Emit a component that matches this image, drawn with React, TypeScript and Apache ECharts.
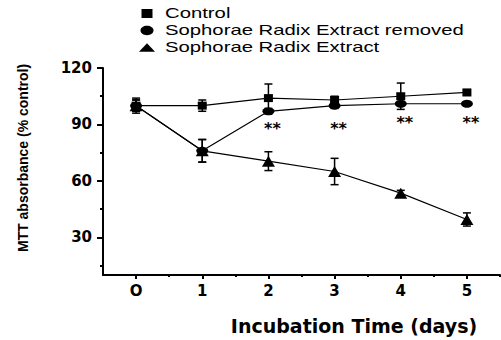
import React, { useEffect, useRef } from "react";
import * as echarts from "echarts";

const days = [0, 1, 2, 3, 4, 5];
const xTickLabels = ["O", "1", "2", "3", "4", "5"];
const xMinorTicks = [0.5, 1.5, 2.5, 3.5, 4.5, 5.5];
const yTickValues = [30, 60, 90, 120];
const yMinorTicks = [15, 45, 75, 105];

const seriesNames = ["Control", "Sophorae Radix Extract removed", "Sophorae Radix Extract"];

const controlMean = [100, 100, 104, 103, 105, 107];
const controlErr = [4, 3, 7.5, 2, 7, 1.5];
const removedMean = [100, 76, 97, 100, 101, 101];
const removedErr = [3, 6, 1.5, 1.5, 1, 1];
const extractMean = [100, 76, 70.5, 65, 53.5, 39.5];
const extractErr = [3, 6, 5, 7, 1.5, 3.5];

const sigDays = [2, 3, 4, 5];
const sigLevel = [89, 89, 92, 92];

const FONT_BOLD = "DejaVu Sans";

export default function App() {
  const ref = useRef<HTMLDivElement>(null);

  useEffect(() => {
    if (!ref.current) return;
    const chart = echarts.init(ref.current, undefined, { renderer: "svg" });

    const pts = (ys: number[]) => days.map((d, i) => [d, ys[i]]);
    const errPts = (ys: number[], es: number[]) => days.map((d, i) => [d, ys[i], es[i]]);

    const errorSeries = (ys: number[], es: number[]) => ({
      type: "custom",
      xAxisIndex: 0,
      yAxisIndex: 0,
      silent: true,
      z: 3,
      encode: { x: 0, y: 1 },
      data: errPts(ys, es),
      renderItem: (params: any, api: any) => {
        const x = api.value(0);
        const y = api.value(1);
        const e = api.value(2);
        const top = api.coord([x, y + e]);
        const bot = api.coord([x, y - e]);
        const hw = 4;
        const st = { stroke: "#000", lineWidth: 1.5 };
        return {
          type: "group",
          children: [
            { type: "line", shape: { x1: top[0], y1: top[1], x2: bot[0], y2: bot[1] }, style: st },
            { type: "line", shape: { x1: top[0] - hw, y1: top[1], x2: top[0] + hw, y2: top[1] }, style: st },
            { type: "line", shape: { x1: bot[0] - hw, y1: bot[1], x2: bot[0] + hw, y2: bot[1] }, style: st },
          ],
        };
      },
    });

    const lineSeries = (name: string, ys: number[], symbol: string, size: number[]) => ({
      name,
      type: "line",
      xAxisIndex: 0,
      yAxisIndex: 0,
      data: pts(ys),
      symbol,
      symbolSize: size,
      showSymbol: true,
      z: 4,
      lineStyle: { color: "#000", width: 1.2 },
      itemStyle: { color: "#000", borderWidth: 0 },
      emphasis: { disabled: true },
    });

    // legend drawn as graphic (text horizontally widened like the reference)
    const legendRowY = [13.5, 30.5, 47.5];
    const markerCx = 147;
    const legendIcons = [
      { type: "rect", shape: { x: markerCx - 5.5, y: legendRowY[0] - 4.5, width: 11, height: 9 }, style: { fill: "#000" } },
      { type: "ellipse", shape: { cx: markerCx, cy: legendRowY[1], rx: 6.5, ry: 4.7 }, style: { fill: "#000" } },
      {
        type: "polygon",
        shape: {
          points: [
            [markerCx - 8, legendRowY[2] + 4.3],
            [markerCx + 8, legendRowY[2] + 4.3],
            [markerCx, legendRowY[2] - 4.3],
          ],
        },
        style: { fill: "#000" },
      },
    ];
    const legendTexts = seriesNames.map((n, i) => ({
      type: "text",
      x: 165,
      y: legendRowY[i],
      scaleX: 1.4,
      style: {
        text: n,
        fontFamily: "Liberation Sans",
        fontSize: 14.5,
        fill: "#000",
        align: "left",
        verticalAlign: "middle",
      },
    }));

    chart.setOption({
      animation: false,
      backgroundColor: "#fff",
      graphic: [...legendIcons, ...legendTexts],
      grid: { left: 103, right: 1, top: 68, bottom: 65, containLabel: false },
      xAxis: [
        {
          type: "value",
          min: -0.5,
          max: 5.5,
          name: "Incubation Time (days)",
          nameLocation: "middle",
          nameGap: 41,
          nameTextStyle: {
            fontFamily: FONT_BOLD,
            fontWeight: "bold",
            fontSize: 19,
            color: "#000",
            padding: [0, 0, 0, 105],
          },
          axisLine: { show: true, onZero: false, lineStyle: { color: "#000", width: 2 } },
          axisTick: { show: true, customValues: days, length: 4, lineStyle: { color: "#000", width: 2 } },
          axisLabel: {
            customValues: days,
            formatter: (v: number) => xTickLabels[days.indexOf(v)] ?? "",
            fontFamily: FONT_BOLD,
            fontWeight: "bold",
            fontSize: 15,
            color: "#000",
            margin: 8,
          },
          splitLine: { show: false },
        },
        {
          type: "value",
          min: -0.5,
          max: 5.5,
          position: "bottom",
          axisLine: { show: false, onZero: false },
          axisTick: { show: true, customValues: xMinorTicks, length: 2, lineStyle: { color: "#000", width: 2 } },
          axisLabel: { show: false },
          splitLine: { show: false },
        },
      ],
      yAxis: [
        {
          type: "value",
          min: 10,
          max: 120,
          name: "MTT absorbance (% control)",
          nameLocation: "middle",
          nameGap: 73,
          nameRotate: 90,
          nameTextStyle: {
            fontFamily: "Liberation Sans",
            fontWeight: "bold",
            fontSize: 14,
            color: "#000",
            padding: [0, 0, 0, 27],
          },
          axisLine: { show: true, onZero: false, lineStyle: { color: "#000", width: 2 } },
          axisTick: { show: true, customValues: yTickValues, length: 6, lineStyle: { color: "#000", width: 2 } },
          axisLabel: {
            customValues: yTickValues,
            fontFamily: FONT_BOLD,
            fontWeight: "bold",
            fontSize: 15,
            color: "#000",
            margin: 11,
          },
          splitLine: { show: false },
        },
        {
          type: "value",
          min: 10,
          max: 120,
          position: "left",
          axisLine: { show: false, onZero: false },
          axisTick: { show: true, customValues: yMinorTicks, length: 3, lineStyle: { color: "#000", width: 2 } },
          axisLabel: { show: false },
          splitLine: { show: false },
        },
      ],
      series: [
        errorSeries(controlMean, controlErr),
        errorSeries(removedMean, removedErr),
        errorSeries(extractMean, extractErr),
        lineSeries(seriesNames[0], controlMean, "rect", [9, 8]),
        lineSeries(seriesNames[1], removedMean, "circle", [12, 8]),
        lineSeries(seriesNames[2], extractMean, "triangle", [13, 11]),
        {
          type: "custom",
          xAxisIndex: 0,
          yAxisIndex: 0,
          silent: true,
          encode: { x: 0, y: 1 },
          data: sigDays.map((d, i) => [d, sigLevel[i]]),
          renderItem: (params: any, api: any) => {
            const c = api.coord([api.value(0), api.value(1)]);
            return {
              type: "text",
              x: c[0] + 4,
              y: c[1] + 2,
              style: {
                text: "**",
                fontFamily: FONT_BOLD,
                fontWeight: "bold",
                fontSize: 16,
                fill: "#000",
                align: "center",
                verticalAlign: "middle",
              },
            };
          },
        },
      ],
    });

    return () => chart.dispose();
  }, []);

  return (
    <div
      ref={ref}
      style={{ position: "fixed", left: 0, top: 0, width: 501, height: 340, background: "#fff" }}
    />
  );
}
